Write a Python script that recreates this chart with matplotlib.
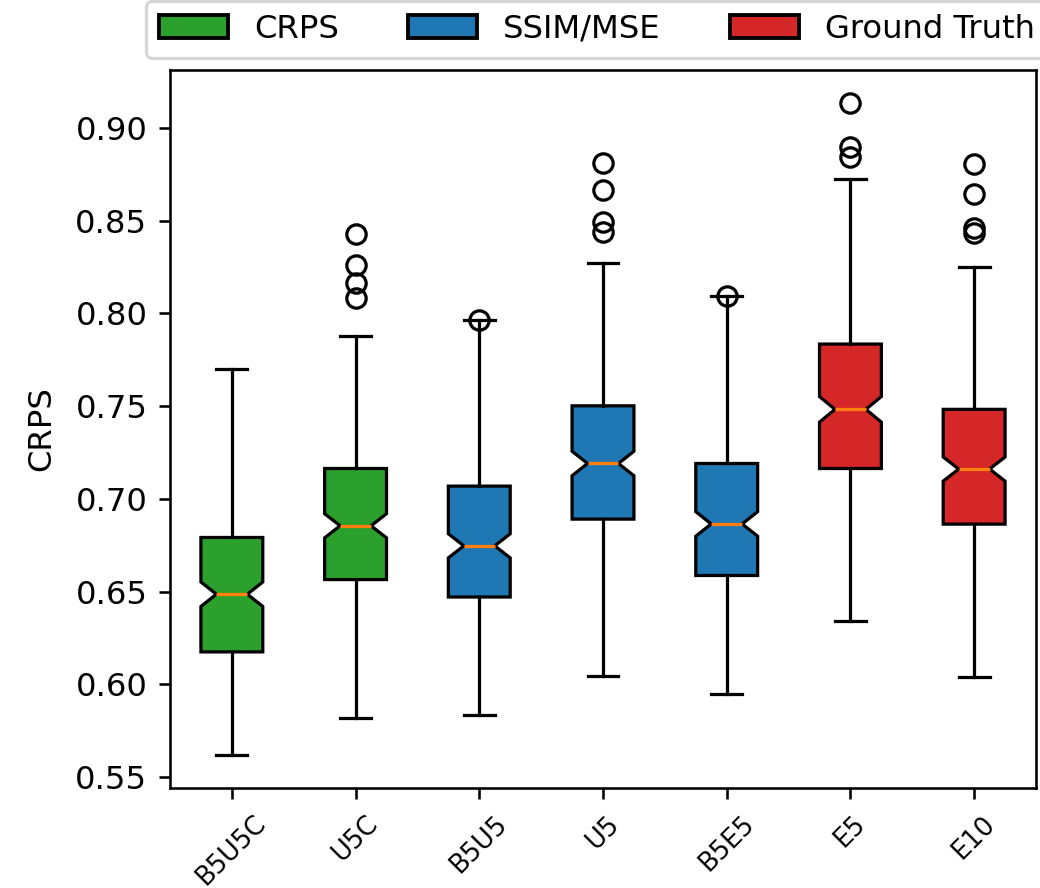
import matplotlib
matplotlib.use("Agg")
import matplotlib.pyplot as plt
from matplotlib.patches import Patch

# ---- data ----
labels = ["B5U5C", "U5C", "B5U5", "U5", "B5E5", "E5", "E10"]
groups = ["CRPS", "CRPS", "SSIM/MSE", "SSIM/MSE", "SSIM/MSE", "Ground Truth", "Ground Truth"]
whisker_low = [0.5617, 0.5821, 0.5833, 0.6043, 0.5950, 0.6340, 0.6040]
q1 = [0.6175, 0.6565, 0.6471, 0.6891, 0.6587, 0.7164, 0.6864]
medians = [0.6486, 0.6855, 0.6747, 0.7191, 0.6865, 0.7483, 0.7161]
q3 = [0.6792, 0.7164, 0.7069, 0.7502, 0.7191, 0.7835, 0.7483]
whisker_high = [0.7699, 0.7878, 0.7965, 0.8271, 0.8096, 0.8724, 0.8252]
notch_half = [0.0066, 0.0065, 0.0065, 0.0066, 0.0066, 0.0069, 0.0065]
outliers = [
    [],
    [0.8429, 0.8261, 0.8163, 0.8082],
    [0.7965],
    [0.8810, 0.8666, 0.8495, 0.8441],
    [0.8096],
    [0.9137, 0.8900, 0.8843],
    [0.8805, 0.8645, 0.8460, 0.8432],
]
group_names = ["CRPS", "SSIM/MSE", "Ground Truth"]
group_colors = {"CRPS": "#2ca02c", "SSIM/MSE": "#1f77b4", "Ground Truth": "#d62728"}

dpi = 232
fig = plt.figure(figsize=(1040 / dpi, 888 / dpi), dpi=dpi)
ax = fig.add_axes([170 / 1040, 1 - 788 / 888, (1036 - 170) / 1040, (788 - 70) / 888])

stats = []
for i in range(len(labels)):
    stats.append(dict(
        label=labels[i], whislo=whisker_low[i], q1=q1[i], med=medians[i],
        q3=q3[i], whishi=whisker_high[i], fliers=outliers[i],
        cilo=medians[i] - notch_half[i], cihi=medians[i] + notch_half[i],
    ))

bp = ax.bxp(stats, shownotches=True, patch_artist=True,
            flierprops=dict(marker="o", markerfacecolor="none", markeredgecolor="black", markersize=6),
            medianprops=dict(color="#ff7f0e"))
for patch, g in zip(bp["boxes"], groups):
    patch.set_facecolor(group_colors[g])
    patch.set_edgecolor("black")

ax.set_ylabel("CRPS", labelpad=5.5)
ax.set_yticks([0.55, 0.60, 0.65, 0.70, 0.75, 0.80, 0.85, 0.90])
ax.set_yticklabels([f"{t:.2f}" for t in ax.get_yticks()])
ax.tick_params(axis="x", labelsize=8)
plt.setp(ax.get_xticklabels(), rotation=45)

handles = [Patch(facecolor=group_colors[g], edgecolor="black", linewidth=1.2, label=g)
           for g in group_names]
fig.legend(handles=handles, loc="upper left", bbox_to_anchor=(146 / 1040, 1 - 1 / 888),
           ncol=3, borderaxespad=0, handlelength=2.15, columnspacing=2.15)

fig.savefig("out.png", dpi=dpi)
